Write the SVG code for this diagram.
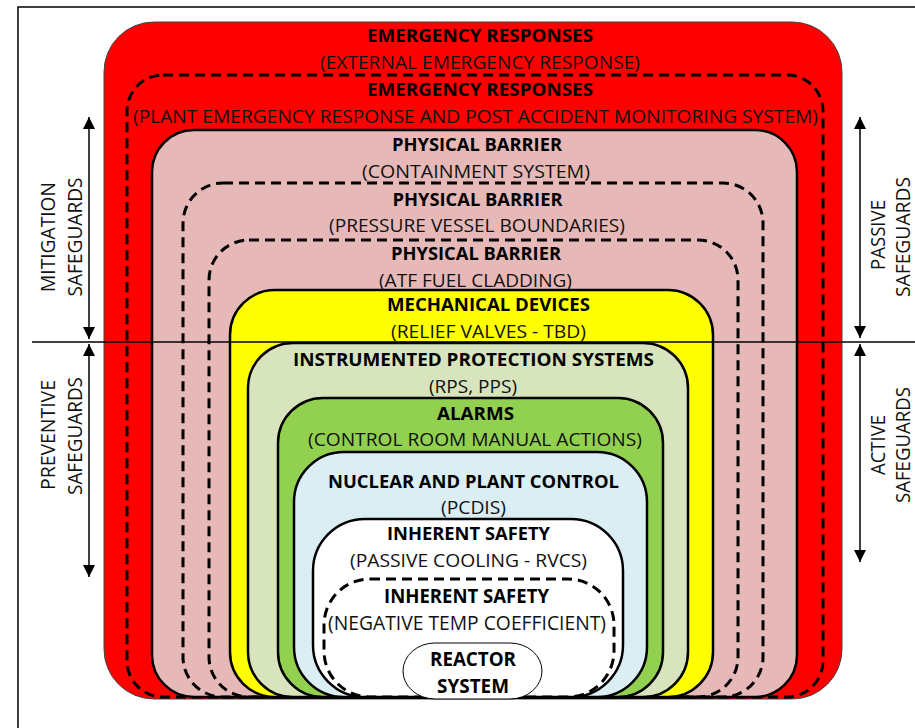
<svg xmlns="http://www.w3.org/2000/svg" width="915" height="728" viewBox="0 0 915 728">
  <style>
    .t { font-family: "Open Sans", "Noto Sans", "Liberation Sans", sans-serif; font-size: 18px; fill: #111; text-anchor: middle; }
    .lg { font-size: 19.5px; }
    .b { font-weight: bold; fill: #000; }
    .side { font-family: "Open Sans", "Noto Sans", "Liberation Sans", sans-serif; font-size: 20px; fill: #111; text-anchor: middle; }
    .solid { stroke: #000; stroke-width: 2.5; }
    .dash { fill: none; stroke: #000; stroke-width: 3; stroke-dasharray: 10 6; }
    .arrow { stroke: #000; stroke-width: 1.5; fill: none; marker-start: url(#head); marker-end: url(#head); }
  </style>
  <defs>
    <marker id="head" viewBox="0 0 12 12" refX="12" refY="6" markerWidth="12" markerHeight="12" markerUnits="userSpaceOnUse" orient="auto-start-reverse">
      <path d="M0,0 L12,6 L0,12 z" fill="#000"/>
    </marker>
  </defs>

  <rect width="915" height="728" fill="#fff"/>
  <!-- page frame -->
  <rect x="18" y="7" width="1000" height="800" fill="none" stroke="#000" stroke-width="1.5"/>

  <!-- nested safeguard layers, outermost first -->
  <g id="external-emergency">
    <rect x="104" y="22" width="738" height="677" rx="50" fill="#FF0000" stroke="#444" stroke-width="1"/>
  </g>
  <g id="plant-emergency">
    <rect x="127" y="75" width="696" height="622" rx="36" class="dash"/>
  </g>
  <g id="containment">
    <rect x="152" y="130" width="645" height="567" rx="42" fill="#E6B9B8" class="solid"/>
  </g>
  <g id="pressure-vessel">
    <rect x="183" y="183" width="580" height="514" rx="40" class="dash"/>
  </g>
  <g id="fuel-cladding">
    <rect x="209" y="240" width="529" height="457" rx="40" class="dash"/>
  </g>
  <g id="mechanical-devices">
    <rect x="230" y="290" width="483" height="407" rx="45" fill="#FFFF00" class="solid"/>
  </g>
  <g id="instrumented-protection">
    <rect x="248" y="343" width="440" height="354" rx="45" fill="#D7E4BD" class="solid"/>
  </g>
  <g id="alarms">
    <rect x="278" y="398" width="385" height="299" rx="45" fill="#92D050" class="solid"/>
  </g>
  <g id="plant-control">
    <rect x="294" y="452" width="353" height="245" rx="50" fill="#DBEEF4" class="solid"/>
  </g>
  <g id="passive-cooling">
    <rect x="313" y="519" width="310" height="178" rx="52" fill="#FFFFFF" class="solid"/>
  </g>
  <g id="negative-temp">
    <rect x="324" y="579" width="290" height="118" rx="46" class="dash"/>
  </g>
  <g id="reactor-system">
    <rect x="403" y="643" width="139" height="56" rx="32" ry="28" fill="#FFFFFF" stroke="#000" stroke-width="1"/>
  </g>

  <!-- layer labels -->
  <g id="labels">
    <text class="t b" x="480" y="42" textLength="226" lengthAdjust="spacingAndGlyphs">EMERGENCY RESPONSES</text>
    <text class="t" x="480" y="68.5" textLength="320" lengthAdjust="spacingAndGlyphs">(EXTERNAL EMERGENCY RESPONSE)</text>
    <text class="t b" x="480" y="96" textLength="226" lengthAdjust="spacingAndGlyphs">EMERGENCY RESPONSES</text>
    <text class="t" x="475.5" y="122.5" textLength="685" lengthAdjust="spacingAndGlyphs">(PLANT EMERGENCY RESPONSE AND POST ACCIDENT MONITORING SYSTEM)</text>
    <text class="t b" x="477" y="151" textLength="170" lengthAdjust="spacingAndGlyphs">PHYSICAL BARRIER</text>
    <text class="t" x="476" y="177.5" textLength="228" lengthAdjust="spacingAndGlyphs">(CONTAINMENT SYSTEM)</text>
    <text class="t b" x="477.5" y="206" textLength="170" lengthAdjust="spacingAndGlyphs">PHYSICAL BARRIER</text>
    <text class="t" x="477" y="231.5" textLength="296" lengthAdjust="spacingAndGlyphs">(PRESSURE VESSEL BOUNDARIES)</text>
    <text class="t b" x="476" y="260" textLength="170" lengthAdjust="spacingAndGlyphs">PHYSICAL BARRIER</text>
    <text class="t" x="475.5" y="287" textLength="193" lengthAdjust="spacingAndGlyphs">(ATF FUEL CLADDING)</text>
    <text class="t b" x="488.5" y="311" textLength="203" lengthAdjust="spacingAndGlyphs">MECHANICAL DEVICES</text>
    <text class="t" x="488.5" y="337.5" textLength="195" lengthAdjust="spacingAndGlyphs">(RELIEF VALVES - TBD)</text>
    <text class="t b" x="473.5" y="366" textLength="361" lengthAdjust="spacingAndGlyphs">INSTRUMENTED PROTECTION SYSTEMS</text>
    <text class="t" x="473" y="393" textLength="88" lengthAdjust="spacingAndGlyphs">(RPS, PPS)</text>
    <text class="t b" x="475.5" y="419.5" textLength="77" lengthAdjust="spacingAndGlyphs">ALARMS</text>
    <text class="t" x="475" y="445.5" textLength="334" lengthAdjust="spacingAndGlyphs">(CONTROL ROOM MANUAL ACTIONS)</text>
    <text class="t b" x="473.5" y="487.5" textLength="291" lengthAdjust="spacingAndGlyphs">NUCLEAR AND PLANT CONTROL</text>
    <text class="t" x="473.5" y="514" textLength="65" lengthAdjust="spacingAndGlyphs">(PCDIS)</text>
    <text class="t b" x="468.5" y="540" textLength="163" lengthAdjust="spacingAndGlyphs">INHERENT SAFETY</text>
    <text class="t" x="468.5" y="566.5" textLength="237" lengthAdjust="spacingAndGlyphs">(PASSIVE COOLING - RVCS)</text>
    <text class="t lg b" x="466.5" y="603" textLength="165" lengthAdjust="spacingAndGlyphs">INHERENT SAFETY</text>
    <text class="t lg" x="467" y="630" textLength="278" lengthAdjust="spacingAndGlyphs">(NEGATIVE TEMP COEFFICIENT)</text>
    <text class="t lg b" x="473" y="666" textLength="86" lengthAdjust="spacingAndGlyphs">REACTOR</text>
    <text class="t lg b" x="473" y="692.5" textLength="72" lengthAdjust="spacingAndGlyphs">SYSTEM</text>
  </g>

  <!-- divider and range arrows -->
  <g id="connectors">
    <line x1="32" y1="342" x2="915" y2="342" stroke="#000" stroke-width="1.4"/>
    <line class="arrow" x1="89" y1="117" x2="89" y2="339"/>
    <line class="arrow" x1="89" y1="344" x2="89" y2="577"/>
    <line class="arrow" x1="860" y1="117" x2="860" y2="338"/>
    <line class="arrow" x1="860" y1="344" x2="860" y2="562"/>
  </g>

  <!-- side captions -->
  <g id="side-labels">
    <text class="side" x="55" y="237" transform="rotate(-90 55 237)" textLength="110" lengthAdjust="spacingAndGlyphs">MITIGATION</text>
    <text class="side" x="82" y="237" transform="rotate(-90 82 237)" textLength="119" lengthAdjust="spacingAndGlyphs">SAFEGUARDS</text>
    <text class="side" x="55" y="435" transform="rotate(-90 55 435)" textLength="110" lengthAdjust="spacingAndGlyphs">PREVENTIVE</text>
    <text class="side" x="82" y="436" transform="rotate(-90 82 436)" textLength="118" lengthAdjust="spacingAndGlyphs">SAFEGUARDS</text>
    <text class="side" x="885" y="235" transform="rotate(-90 885 235)" textLength="70" lengthAdjust="spacingAndGlyphs">PASSIVE</text>
    <text class="side" x="910" y="237" transform="rotate(-90 910 237)" textLength="120" lengthAdjust="spacingAndGlyphs">SAFEGUARDS</text>
    <text class="side" x="885" y="445" transform="rotate(-90 885 445)" textLength="60" lengthAdjust="spacingAndGlyphs">ACTIVE</text>
    <text class="side" x="910" y="445" transform="rotate(-90 910 445)" textLength="116" lengthAdjust="spacingAndGlyphs">SAFEGUARDS</text>
  </g>
</svg>
